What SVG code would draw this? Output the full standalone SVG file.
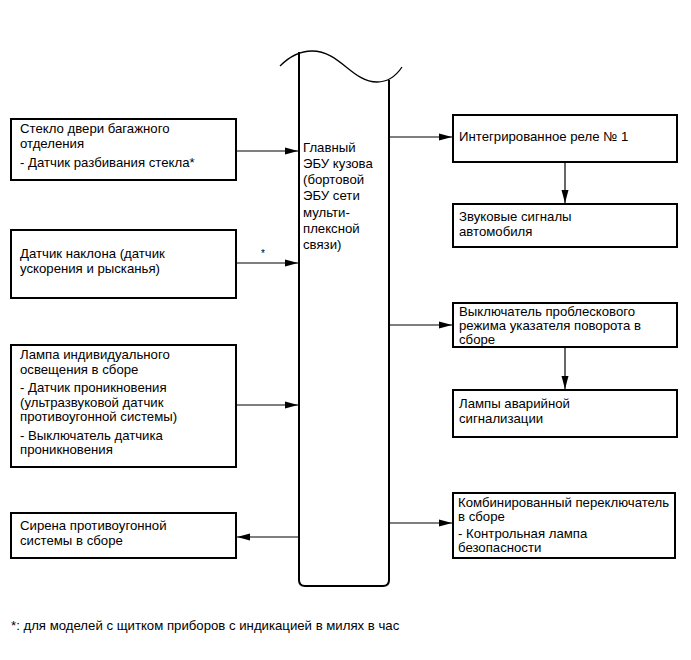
<svg xmlns="http://www.w3.org/2000/svg" width="691" height="660" viewBox="0 0 691 660">
<style>
.box{fill:#fff;stroke:#000;stroke-width:2}
.t{font-family:"Liberation Sans",Arial,sans-serif;font-size:13.2px;fill:#000}
.c{stroke:#000;stroke-width:1.2;fill:none}
</style>
<defs>
<marker id="ah" markerWidth="13" markerHeight="8" refX="13" refY="4" orient="auto" markerUnits="userSpaceOnUse">
<path d="M0,0.5 L13,4 L0,7.5 Z" fill="#000"/>
</marker>
</defs>
<rect width="691" height="660" fill="#fff"/>
<g id="ecu">
<path d="M280,66 C292,54 302,51 312,51 C340,51 352,82 377,82 C388,82 396,76 402,67" fill="none" stroke="#000" stroke-width="1.3"/>
<path d="M299,52 V580 Q299,586 305,586 H383 Q389,586 389,580 V80" fill="none" stroke="#000" stroke-width="2"/>
<text class="t"><tspan x="303" y="152">Главный</tspan><tspan x="303" y="168">ЭБУ кузова</tspan><tspan x="303" y="184">(бортовой</tspan><tspan x="303" y="200">ЭБУ сети</tspan><tspan x="303" y="217">мульти-</tspan><tspan x="303" y="233">плексной</tspan><tspan x="303" y="249">связи)</tspan></text>
</g>
<g id="glass">
<rect class="box" x="11" y="119" width="225" height="61"/>
<text class="t"><tspan x="20" y="133">Стекло двери багажного</tspan><tspan x="20" y="147.5">отделения</tspan><tspan x="20" y="167">- Датчик разбивания стекла*</tspan></text>
</g>
<g id="tilt">
<rect class="box" x="11" y="230" width="225" height="68"/>
<text class="t"><tspan x="20" y="258">Датчик наклона (датчик</tspan><tspan x="20" y="272.5">ускорения и рысканья)</tspan></text>
</g>
<g id="lamp">
<rect class="box" x="11" y="345" width="225" height="122"/>
<text class="t"><tspan x="20" y="359">Лампа индивидуального</tspan><tspan x="20" y="373.5">освещения в сборе</tspan><tspan x="20" y="392">- Датчик проникновения</tspan><tspan x="20" y="406.5">(ультразвуковой датчик</tspan><tspan x="20" y="421">противоугонной системы)</tspan><tspan x="20" y="439.5">- Выключатель датчика</tspan><tspan x="20" y="454">проникновения</tspan></text>
</g>
<g id="siren">
<rect class="box" x="11" y="513" width="225" height="45"/>
<text class="t"><tspan x="20" y="530">Сирена противоугонной</tspan><tspan x="20" y="544.5">системы в сборе</tspan></text>
</g>
<g id="relay">
<rect class="box" x="453" y="115" width="224" height="47"/>
<text class="t"><tspan x="459" y="141">Интегрированное реле № 1</tspan></text>
</g>
<g id="horns">
<rect class="box" x="453" y="204" width="224" height="43"/>
<text class="t"><tspan x="459" y="221">Звуковые сигналы</tspan><tspan x="459" y="235.5">автомобиля</tspan></text>
</g>
<g id="flasher">
<rect class="box" x="453" y="303" width="224" height="44"/>
<text class="t"><tspan x="459" y="315.5">Выключатель проблескового</tspan><tspan x="459" y="329.5">режима указателя поворота в</tspan><tspan x="459" y="343.5">сборе</tspan></text>
</g>
<g id="hazard">
<rect class="box" x="453" y="390" width="224" height="47"/>
<text class="t"><tspan x="459" y="408">Лампы аварийной</tspan><tspan x="459" y="422.5">сигнализации</tspan></text>
</g>
<g id="combo">
<rect class="box" x="453" y="493" width="222" height="65"/>
<text class="t"><tspan x="458" y="507">Комбинированный переключатель</tspan><tspan x="458" y="521">в сборе</tspan><tspan x="458" y="538">- Контрольная лампа</tspan><tspan x="458" y="552">безопасности</tspan></text>
</g>
<g id="connectors">
<line class="c" x1="236" y1="151" x2="298" y2="151" marker-end="url(#ah)"/>
<line class="c" x1="236" y1="263" x2="298" y2="263" marker-end="url(#ah)"/>
<line class="c" x1="236" y1="405" x2="298" y2="405" marker-end="url(#ah)"/>
<line class="c" x1="298" y1="537" x2="237" y2="537" marker-end="url(#ah)"/>
<line class="c" x1="389" y1="137" x2="452" y2="137" marker-end="url(#ah)"/>
<line class="c" x1="389" y1="325" x2="452" y2="325" marker-end="url(#ah)"/>
<line class="c" x1="389" y1="523" x2="452" y2="523" marker-end="url(#ah)"/>
<line class="c" x1="565" y1="162" x2="565" y2="203" marker-end="url(#ah)"/>
<line class="c" x1="565" y1="347" x2="565" y2="389" marker-end="url(#ah)"/>
<text class="t" x="261" y="257" style="font-size:10px">*</text>
</g>
<text class="t" x="11" y="630">*: для моделей с щитком приборов с индикацией в милях в час</text>
</svg>
